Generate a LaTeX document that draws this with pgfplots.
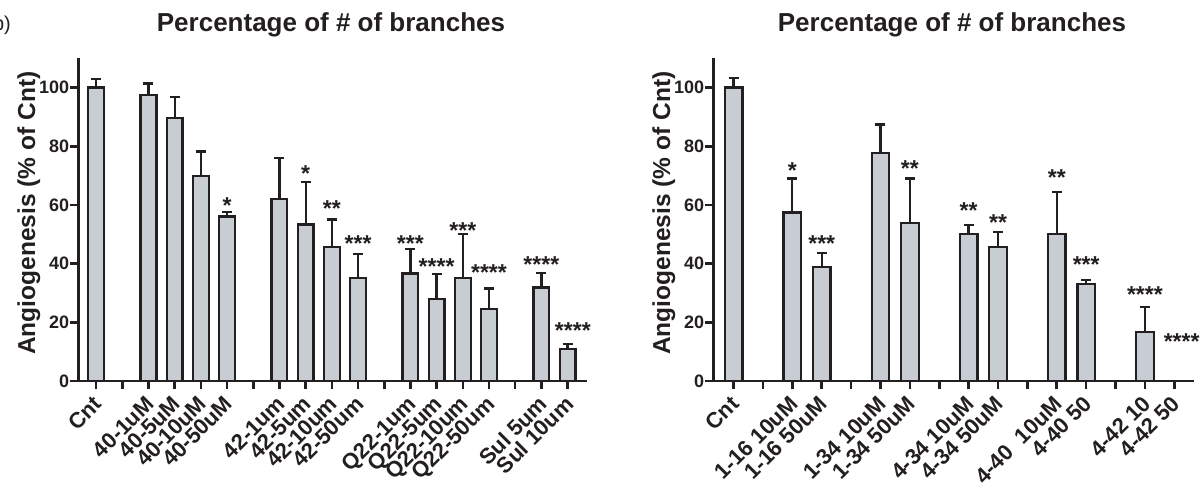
\documentclass[border=0pt]{standalone}
\usepackage{fontspec}
\setmainfont{Liberation Sans}
\usepackage{pgfplots}
\usepackage{pgfplotstable}
\pgfplotsset{compat=1.18}
\definecolor{barfill}{HTML}{C8CCD3}
\definecolor{dark}{HTML}{231F20}

\pgfplotstableread{
x y e
0 100 3.0
2 97.6 3.8
3 89.6 7.1
4 69.8 8.4
5 56.1 1.4
7 62.1 13.9
8 53.3 14.5
9 45.7 9.3
10 35.1 8.3
12 36.6 8.3
13 27.9 8.5
14 35.1 14.9
15 24.5 7.0
17 31.9 4.9
18 10.8 1.7
}\leftdata

\pgfplotstableread{
x y s
5 61.6 *
8 72.3 *
9 60.4 **
10 48.5 ***
12 48.7 ***
13 40.9 ****
14 53.1 ***
15 38.7 ****
17 41.5 ****
18.2 18.8 ****
}\leftstars

\pgfplotstableread{
x y e
0 100 3.2
2 57.4 11.6
3 38.9 4.7
5 77.8 9.6
6 53.8 15.2
8 50.2 2.9
9 45.7 5.1
11 50.2 14.2
12 33.0 1.4
14 16.8 8.5
}\rightdata

\pgfplotstableread{
x y s
2 73.5 *
3 48.5 ***
6 74.0 **
8 59.9 **
9 55.9 **
11 71.2 **
12 41.4 ***
14 31.2 ****
15.25 15.1 ****
}\rightstars

\pgfplotsset{
 prism/.style={
  scale only axis, height=322.7pt, ymin=0, ymax=110,
  enlargelimits=false, clip=false,
  axis x line=bottom, axis y line=left,
  axis line style={-, line width=2.6pt, draw=dark},
  tick align=outside, major tick length=8pt,
  tick style={line width=2.6pt, draw=dark},
  ytick={0,20,...,100},
  /pgf/number format/assume math mode=true,
  yticklabel style={font=\bfseries\fontsize{18}{18}\selectfont, inner sep=1pt, text=dark},
  xticklabel style={font=\bfseries\fontsize{22}{22}\selectfont, xshift=-4pt, yshift=-4pt, rotate=45, anchor=north east, inner sep=1pt, text=dark},
  ylabel={Angiogenesis (\% of Cnt)},
 },
 bars/.style={ybar, fill=barfill, draw=dark, line width=2.3pt, bar width=0.6,
  error bars/.cd, y dir=plus, y explicit,
  error bar style={line width=2.3pt, draw=dark},
  error mark options={rotate=90, line width=2.3pt, mark size=5pt, draw=dark}},
 stars/.style={only marks, mark=none, nodes near coords, point meta=explicit symbolic,
  every node near coord/.style={anchor=base, yshift=-13pt, inner sep=0pt,
   font=\bfseries\fontsize{23}{23}\selectfont, text=dark}},
}

\begin{document}
\begin{tikzpicture}
\begin{axis}[prism, at={(78.3pt,109pt)}, anchor=south west, width=508.4pt,
  xmin=-0.68, xmax=18.73, xtick={0,...,18},
  xticklabels={Cnt,,40-1uM,40-5uM,40-10uM,40-50uM,,42-1um,42-5um,42-10um,42-50um,,Q22-1um,Q22-5um,Q22-10um,Q22-50um,,Sul 5um,Sul 10um},
  every axis y label/.style={at={(axis description cs:-0.085,0.52)}, rotate=90, anchor=base, font=\bfseries\fontsize{24.5}{24.5}\selectfont, text=dark}]
\addplot[bars] table[x=x, y=y, y error=e] {\leftdata};
\addplot[stars] table[x=x, y=y, meta=s] {\leftstars};
\end{axis}
\begin{axis}[prism, at={(713.3pt,109pt)}, anchor=south west, width=481pt,
  xmin=-0.69, xmax=15.68, xtick={0,...,15},
  xticklabels={Cnt,,1-16 10uM,1-16 50uM,,1-34 10uM,1-34 50uM,,4-34 10uM,4-34 50uM,,4-40~~10uM,4-40 50,,4-42 10,4-42 50},
  every axis y label/.style={at={(axis description cs:-0.09,0.52)}, rotate=90, anchor=base, font=\bfseries\fontsize{24.5}{24.5}\selectfont, text=dark}]
\addplot[bars] table[x=x, y=y, y error=e] {\rightdata};
\addplot[stars] table[x=x, y=y, meta=s] {\rightstars};
\end{axis}
\node[anchor=base, font=\bfseries\fontsize{26}{26}\selectfont, text=dark] at (331pt,458pt) {Percentage of \# of branches};
\node[anchor=base, font=\bfseries\fontsize{26}{26}\selectfont, text=dark] at (952pt,458pt) {Percentage of \# of branches};
\node[anchor=base east, font=\fontsize{20}{20}\selectfont, inner sep=0pt, text=dark] at (11pt,459pt) {b)};
\pgfresetboundingbox
\path (0,0) rectangle (1203pt,490pt);
\end{tikzpicture}
\end{document}
